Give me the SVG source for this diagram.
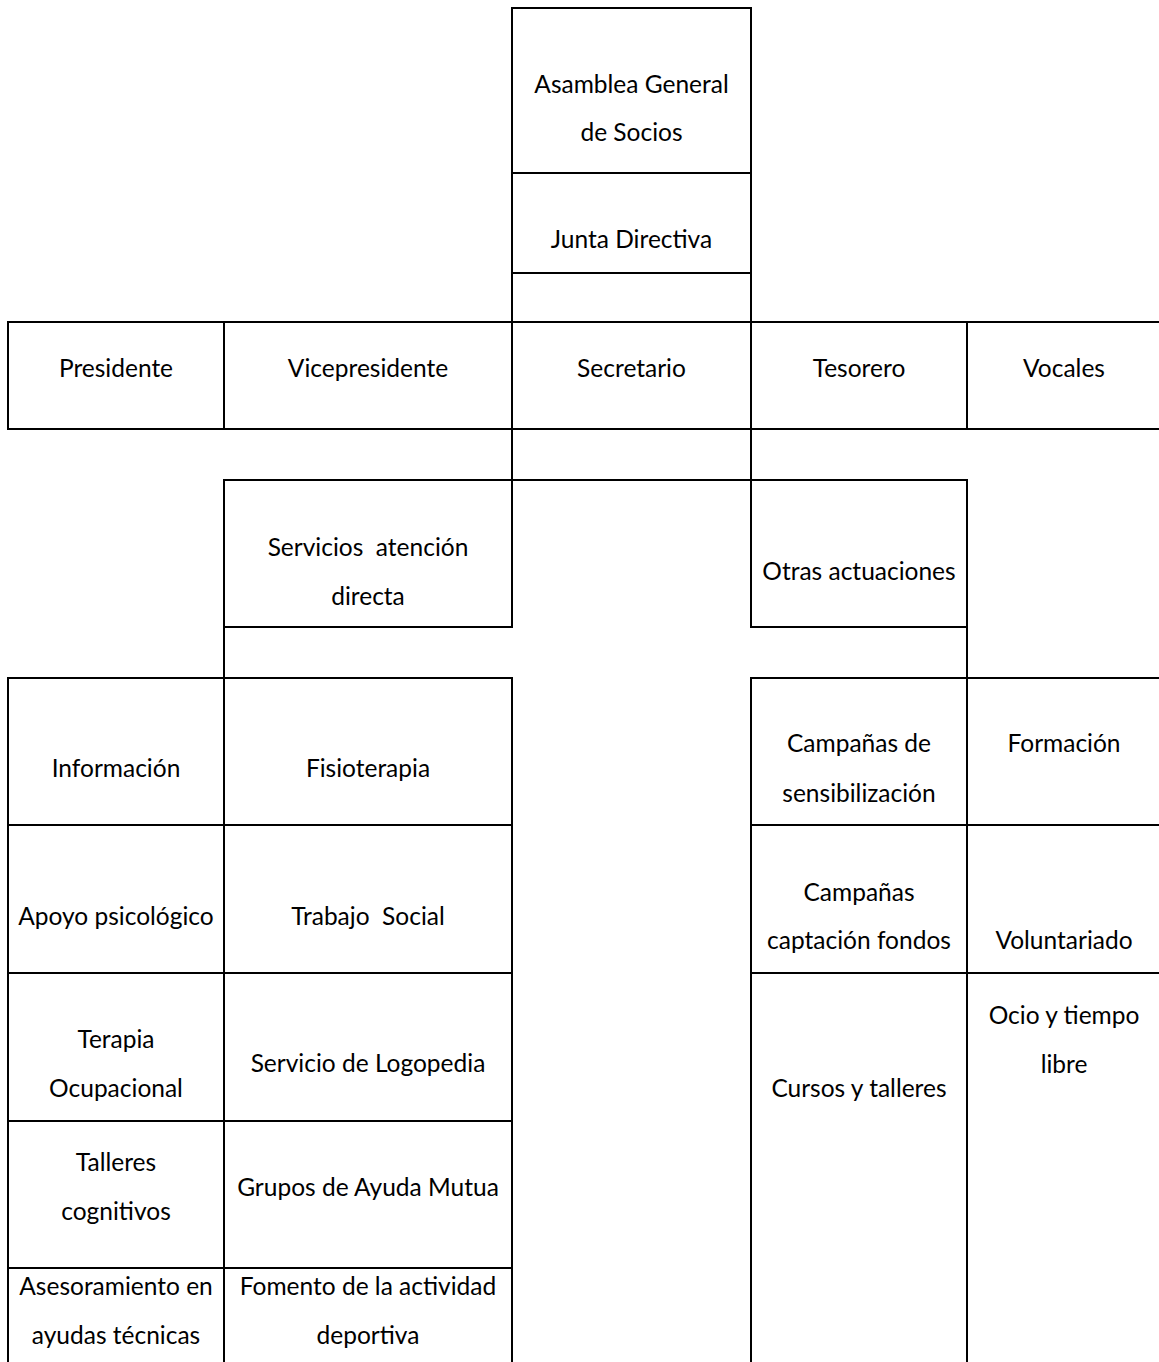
<svg xmlns="http://www.w3.org/2000/svg" width="1159" height="1362" viewBox="0 0 1159 1362">
<style>
rect.c{fill:#fff;stroke:#000;stroke-width:2}
line{stroke:#000;stroke-width:2}
text{font-family:Lato,"Liberation Sans",sans-serif;font-size:24.5px;fill:#000;text-anchor:middle;white-space:pre}
</style>
<rect width="1159" height="1362" fill="#fff"/>
<g id="connectors">
<line x1="512" y1="273" x2="512" y2="322"/>
<line x1="751" y1="273" x2="751" y2="322"/>
<line x1="512" y1="429" x2="512" y2="480"/>
<line x1="751" y1="429" x2="751" y2="480"/>
<line x1="512" y1="480" x2="751" y2="480"/>
<line x1="224" y1="627" x2="224" y2="678"/>
<line x1="967" y1="627" x2="967" y2="678"/>
</g>
<g id="asamblea"><rect class="c" x="512" y="8" width="239" height="165"/><text x="631.5" y="93">Asamblea General</text><text x="631.5" y="141">de Socios</text></g>
<g id="junta"><rect class="c" x="512" y="173" width="239" height="100"/><text x="631.5" y="248">Junta Directiva</text></g>
<g id="presidente"><rect class="c" x="8" y="322" width="216" height="107"/><text x="116" y="377">Presidente</text></g>
<g id="vicepresidente"><rect class="c" x="224" y="322" width="288" height="107"/><text x="368" y="377">Vicepresidente</text></g>
<g id="secretario"><rect class="c" x="512" y="322" width="239" height="107"/><text x="631.5" y="377">Secretario</text></g>
<g id="tesorero"><rect class="c" x="751" y="322" width="216" height="107"/><text x="859" y="377">Tesorero</text></g>
<g id="vocales"><rect class="c" x="967" y="322" width="210" height="107"/><text x="1064" y="377">Vocales</text></g>
<g id="servicios"><rect class="c" x="224" y="480" width="288" height="147"/><text x="368" y="556">Servicios  atención</text><text x="368" y="605">directa</text></g>
<g id="otras"><rect class="c" x="751" y="480" width="216" height="147"/><text x="859" y="580">Otras actuaciones</text></g>
<g id="informacion"><rect class="c" x="8" y="678" width="216" height="147"/><text x="116" y="777">Información</text></g>
<g id="fisioterapia"><rect class="c" x="224" y="678" width="288" height="147"/><text x="368" y="777">Fisioterapia</text></g>
<g id="apoyo"><rect class="c" x="8" y="825" width="216" height="148"/><text x="116" y="925">Apoyo psicológico</text></g>
<g id="trabajo"><rect class="c" x="224" y="825" width="288" height="148"/><text x="368" y="925">Trabajo  Social</text></g>
<g id="terapia"><rect class="c" x="8" y="973" width="216" height="148"/><text x="116" y="1048">Terapia</text><text x="116" y="1097">Ocupacional</text></g>
<g id="logopedia"><rect class="c" x="224" y="973" width="288" height="148"/><text x="368" y="1072">Servicio de Logopedia</text></g>
<g id="talleres"><rect class="c" x="8" y="1121" width="216" height="147"/><text x="116" y="1171">Talleres</text><text x="116" y="1220">cognitivos</text></g>
<g id="grupos"><rect class="c" x="224" y="1121" width="288" height="147"/><text x="368" y="1196">Grupos de Ayuda Mutua</text></g>
<g id="asesoramiento"><rect class="c" x="8" y="1268" width="216" height="110"/><text x="116" y="1295">Asesoramiento en</text><text x="116" y="1344">ayudas técnicas</text></g>
<g id="fomento"><rect class="c" x="224" y="1268" width="288" height="110"/><text x="368" y="1295">Fomento de la actividad</text><text x="368" y="1344">deportiva</text></g>
<g id="campanas-sens"><rect class="c" x="751" y="678" width="216" height="147"/><text x="859" y="752">Campañas de</text><text x="859" y="802">sensibilización</text></g>
<g id="formacion"><rect class="c" x="967" y="678" width="210" height="147"/><text x="1064" y="752">Formación</text></g>
<g id="campanas-fondos"><rect class="c" x="751" y="825" width="216" height="148"/><text x="859" y="901">Campañas</text><text x="859" y="949">captación fondos</text></g>
<g id="voluntariado"><rect class="c" x="967" y="825" width="210" height="148"/><text x="1064" y="949">Voluntariado</text></g>
<g id="cursos"><rect class="c" x="751" y="973" width="216" height="405"/><text x="859" y="1097">Cursos y talleres</text></g>
<g id="ocio"><rect class="c" x="967" y="973" width="210" height="405"/><text x="1064" y="1024">Ocio y tiempo</text><text x="1064" y="1073">libre</text></g>
</svg>
